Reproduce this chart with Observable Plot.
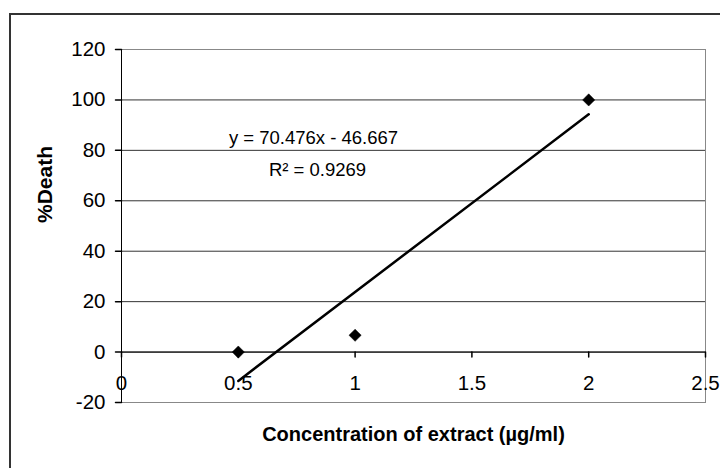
<!DOCTYPE html>
<html><head><meta charset="utf-8">
<script src="https://cdn.jsdelivr.net/npm/d3@7"></script>
<script src="https://cdn.jsdelivr.net/npm/@observablehq/plot@0.6"></script>
<style>
body{margin:0;background:#fff;}
#wrap{position:relative;width:720px;height:468px;overflow:hidden;font-family:"Liberation Sans",Arial,sans-serif;}
#frame{position:absolute;left:9px;top:13px;width:800px;height:600px;border-left:2px solid #333;border-top:2px solid #333;}
#chart{position:absolute;left:0;top:0;}
</style></head><body>
<div id="wrap"><div id="frame"></div><div id="chart"></div></div>
<script>
const concentration = [0.5, 1, 2];
const death = [0, 6.67, 100];
const xTicks = [0, 0.5, 1, 1.5, 2, 2.5];
const yTicks = [-20, 0, 20, 40, 60, 80, 100, 120];
const xTitle = "Concentration of extract (µg/ml)";
const yTitle = "%Death";
const equationLabel = "y = 70.476x - 46.667";
const r2Label = "R² = 0.9269";

const n = {length: concentration.length};
const tickShape = {draw(context, l) { context.moveTo(0, 0); context.lineTo(0, -l); }};

const chart = Plot.plot({
  width: 720,
  height: 468,
  marginLeft: 121,
  marginRight: 15,
  marginTop: 49,
  marginBottom: 66,
  style: {fontFamily: '"Liberation Sans", Arial, sans-serif', color: "black", background: "transparent"},
  x: {domain: [0, 2.5], axis: null},
  y: {domain: [-20, 120], axis: null},
  marks: [
    Plot.gridY(yTicks, {stroke: "#333", strokeOpacity: 1}),
    Plot.frame({stroke: "#888"}),
    Plot.ruleY([0], {stroke: "black"}),
    Plot.ruleX([0], {stroke: "black"}),
    Plot.vector(yTicks, {x: 0, y: d => d, length: 6, rotate: -90, anchor: "start", shape: tickShape, stroke: "black"}),
    Plot.text(yTicks, {frameAnchor: "left", y: d => d, dx: -16, textAnchor: "end", text: d => String(d), fontSize: 20.5, fill: "black"}),
    Plot.vector(xTicks, {x: d => d, y: 0, length: 5, rotate: 180, anchor: "start", shape: tickShape, stroke: "black"}),
    Plot.text(xTicks, {x: d => d, y: 0, dy: 31, text: d => String(d), fontSize: 20.5, fill: "black"}),
    Plot.linearRegressionY(n, {x: concentration, y: death, ci: 0, stroke: "black", strokeWidth: 2.5}),
    Plot.dot(n, {x: concentration, y: death, symbol: "diamond2", r: 5.5, fill: "black", stroke: "black", strokeWidth: 0.5}),
    Plot.text([equationLabel], {frameAnchor: "top-left", dx: 192, dy: 89, textAnchor: "middle", lineAnchor: "middle", text: d => d, fontSize: 18.5, fill: "black"}),
    Plot.text([r2Label], {frameAnchor: "top-left", dx: 196, dy: 121, textAnchor: "middle", lineAnchor: "middle", text: d => d, fontSize: 18.5, fill: "black"}),
    Plot.text([xTitle], {frameAnchor: "bottom", dy: 38, text: d => d, fontSize: 20, fontWeight: "bold", fill: "black"}),
    Plot.text([yTitle], {frameAnchor: "left", dx: -76, dy: -3, rotate: -90, text: d => d, fontSize: 21, fontWeight: "bold", fill: "black"})
  ]
});
document.getElementById("chart").appendChild(chart);
</script>
</body></html>
